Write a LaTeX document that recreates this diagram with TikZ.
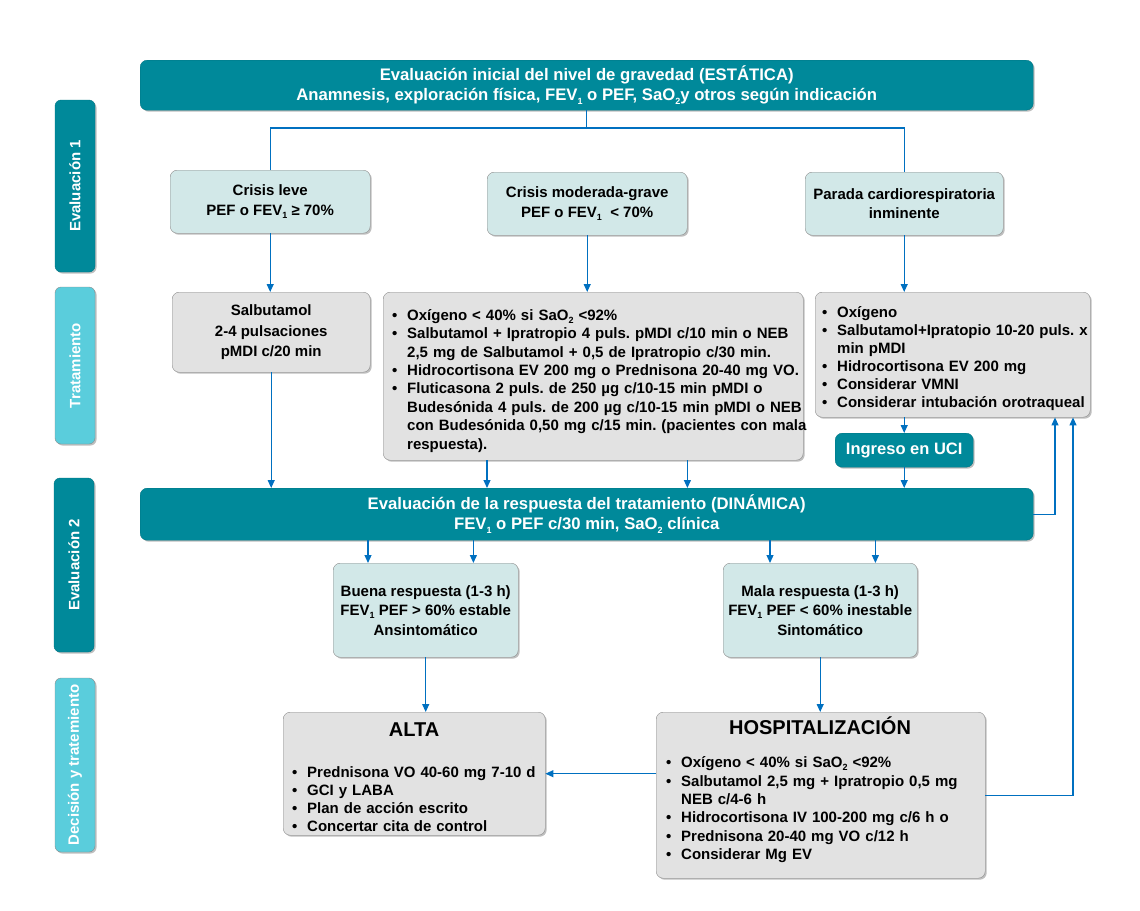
\documentclass[tikz,border=0pt]{standalone}
\usepackage{fontspec}
\setmainfont{Liberation Sans}
\usetikzlibrary{arrows.meta,shadows,calc}
\definecolor{tealA}{RGB}{0,137,154}
\definecolor{tealB}{RGB}{90,205,220}
\definecolor{boxA}{RGB}{210,232,232}
\definecolor{boxG}{RGB}{226,226,226}
\definecolor{bord}{RGB}{140,140,140}
\definecolor{arr}{RGB}{0,112,192}
\frenchspacing
\newcommand{\sbs}[1]{\raisebox{-0.4ex}{\fontsize{9}{9}\selectfont #1}}
\newcommand{\itm}[1]{\par\noindent\makebox[15pt][l]{•}#1}
\newcommand{\cnt}[1]{\par\noindent\hspace*{15pt}#1}
\begin{document}
\begin{tikzpicture}[x=1pt,y=-1pt,
  shd/.style={drop shadow={shadow xshift=1.5pt,shadow yshift=-1.5pt,fill=black,opacity=0.25}},
  base/.style={rounded corners=7pt,font=\bfseries\fontsize{15}{19.5}\selectfont,align=center,inner sep=0pt,anchor=north west,shd},
  darkbox/.style={base,fill=tealA,draw=tealA!85!black,text=white},
  lightbox/.style={base,fill=boxA,draw=bord},
  graybox/.style={base,fill=boxG,draw=bord},
  bar/.style={rounded corners=6pt,font=\bfseries\fontsize{15}{18}\selectfont,text=white,inner sep=0pt,rotate=90,minimum height=40pt,anchor=center,shd},
  listtext/.style={font=\bfseries\fontsize{15}{18.4}\selectfont,align=left,inner sep=0pt,anchor=west,text width=450pt},
  ln/.style={draw=arr,line width=1.2pt},
  arw/.style={ln,-{Triangle[length=8pt,width=7pt]}}]
\useasboundingbox (0,0) rectangle (1140,910);
% side bars
\node[bar,fill=tealA,draw=tealA!85!black,minimum width=172pt] (e1) at (75,186) {Evaluación 1};
\node[bar,fill=tealB,draw=bord,minimum width=157pt] (tr) at (75,365.5) {Tratamiento};
\node[bar,fill=tealA,draw=tealA!85!black,minimum width=174pt] (e2) at (74,565) {Evaluación 2};
\node[bar,fill=tealB,draw=bord,minimum width=174pt] (dt) at (75,765) {Decisión y tratemiento};
% header
\node[darkbox,minimum width=893pt,minimum height=50pt,font=\bfseries\fontsize{16.7}{20}\selectfont] (top) at (140,60)
  {Evaluación inicial del nivel de gravedad (ESTÁTICA)\\Anamnesis, exploración física, FEV\sbs{1} o PEF, SaO\sbs{2}y otros según indicación};
% crisis
\node[lightbox,minimum width=200pt,minimum height=63pt] (cl) at (170,170) {Crisis leve\\PEF o FEV\sbs{1} ≥ 70\%};
\node[lightbox,minimum width=200pt,minimum height=63pt] (cm) at (487,172) {Crisis moderada-grave\\PEF o FEV\sbs{1}\ \ < 70\%};
\node[lightbox,minimum width=198pt,minimum height=63pt] (pc) at (805,172) {Parada cardiorespiratoria\\inminente};
% treatment
\node[graybox,minimum width=198pt,minimum height=80pt,font=\bfseries\fontsize{15}{20.5}\selectfont] (t1) at (172,292) {Salbutamol\\2-4 pulsaciones\\pMDI c/20 min};
\node[graybox,minimum width=420pt,minimum height=168pt] (t2) at (383,292) {};
\node[listtext] (t2l) at (392,377) {%
\itm{Oxígeno < 40\% si SaO\sbs{2} <92\%}
\itm{Salbutamol + Ipratropio 4 puls. pMDI c/10 min o NEB}
\cnt{2,5 mg de Salbutamol + 0,5 de Ipratropio c/30 min.}
\itm{Hidrocortisona EV 200 mg o Prednisona 20-40 mg VO.}
\itm{Fluticasona 2 puls. de 250 µg c/10-15 min pMDI o}
\cnt{Budesónida 4 puls. de 200 µg c/10-15 min pMDI o NEB}
\cnt{con Budesónida 0,50 mg c/15 min. (pacientes con mala}
\cnt{respuesta).}};
\node[graybox,minimum width=275pt,minimum height=125pt] (t3) at (815,292) {};
\node[listtext,font=\bfseries\fontsize{15}{18}\selectfont] (t3l) at (822,355) {%
\itm{Oxígeno}
\itm{Salbutamol+Ipratopio 10-20 puls. x}
\cnt{min pMDI}
\itm{Hidrocortisona EV 200 mg}
\itm{Considerar VMNI}
\itm{Considerar intubación orotraqueal}};
\node[darkbox,minimum width=138pt,minimum height=34pt,font=\bfseries\fontsize{16.5}{19}\selectfont] (uci) at (835,433) {Ingreso en UCI};
% evaluation 2
\node[darkbox,minimum width=893pt,minimum height=52pt,font=\bfseries\fontsize{16.7}{20}\selectfont] (ev2) at (140,488)
  {Evaluación de la respuesta del tratamiento (DINÁMICA)\\FEV\sbs{1} o PEF c/30 min, SaO\sbs{2} clínica};
\node[lightbox,minimum width=185pt,minimum height=94pt] (bu) at (333,563) {Buena respuesta (1-3 h)\\FEV\sbs{1} PEF > 60\% estable\\Ansintomático};
\node[lightbox,minimum width=194pt,minimum height=94pt] (ma) at (723,563) {Mala respuesta (1-3 h)\\FEV\sbs{1} PEF < 60\% inestable\\Sintomático};
% decision
\node[graybox,minimum width=262pt,minimum height=123pt] (al) at (283,712) {};
\node[font=\bfseries\fontsize{20}{22}\selectfont,inner sep=0pt] (alt) at (414,730) {ALTA};
\node[listtext,font=\bfseries\fontsize{15}{18}\selectfont] (all) at (292,796) {%
\itm{Prednisona VO 40-60 mg 7-10 d}
\itm{GCI y LABA}
\itm{Plan de acción escrito}
\itm{Concertar cita de control}};
\node[graybox,minimum width=329pt,minimum height=166pt] (ho) at (656,712) {};
\node[font=\bfseries\fontsize{20}{22}\selectfont,inner sep=0pt] (hot) at (820,726) {HOSPITALIZACIÓN};
\node[listtext,font=\bfseries\fontsize{15}{18.3}\selectfont] (hol) at (666,806) {%
\itm{Oxígeno < 40\% si SaO\sbs{2} <92\%}
\itm{Salbutamol 2,5 mg + Ipratropio 0,5 mg}
\cnt{NEB c/4-6 h}
\itm{Hidrocortisona IV 100-200 mg c/6 h o}
\itm{Prednisona 20-40 mg VO c/12 h}
\itm{Considerar Mg EV}};
% connectors
\coordinate (hl) at (270,128);
\coordinate (fb1) at (1055,0);
\coordinate (fb2) at (1073,0);
\coordinate (b1) at ($(bu.north west)+(35,0)$);
\coordinate (b2) at ($(bu.north east)+(-45,0)$);
\coordinate (m1) at ($(ma.north west)+(47,0)$);
\coordinate (m2) at ($(ma.north east)+(-42,0)$);
\draw[ln] (top.south) -- (top.south |- hl);
\draw[ln] (cl.north) -- (cl.north |- hl) -- (pc.north |- hl) -- (pc.north);
\draw[arw] (cl.south) -- (cl.south |- t1.north);
\draw[arw] (cm.south) -- (cm.south |- t2.north);
\draw[arw] (pc.south) -- (pc.south |- t3.north);
\draw[arw] (uci.north |- t3.south) -- (uci.north);
\draw[arw] (uci.south) -- (uci.south |- ev2.north);
\draw[arw] (t1.south) -- (t1.south |- ev2.north);
\draw[arw] (t2.south -| cm.west) -- (ev2.north -| cm.west);
\draw[arw] (t2.south -| cm.east) -- (ev2.north -| cm.east);
\draw[arw] (b1 |- ev2.south) -- (b1);
\draw[arw] (b2 |- ev2.south) -- (b2);
\draw[arw] (m1 |- ev2.south) -- (m1);
\draw[arw] (m2 |- ev2.south) -- (m2);
\draw[arw] (bu.south) -- (bu.south |- al.north);
\draw[arw] (ma.south) -- (ma.south |- ho.north);
\draw[arw] (al.east -| ho.west) -- (al.east);
\draw[arw] (ev2.east) -- (ev2.east -| fb1) -- (fb1 |- t3.south);
\draw[arw] (ho.east) -- (ho.east -| fb2) -- (fb2 |- t3.south);
\end{tikzpicture}
\end{document}
